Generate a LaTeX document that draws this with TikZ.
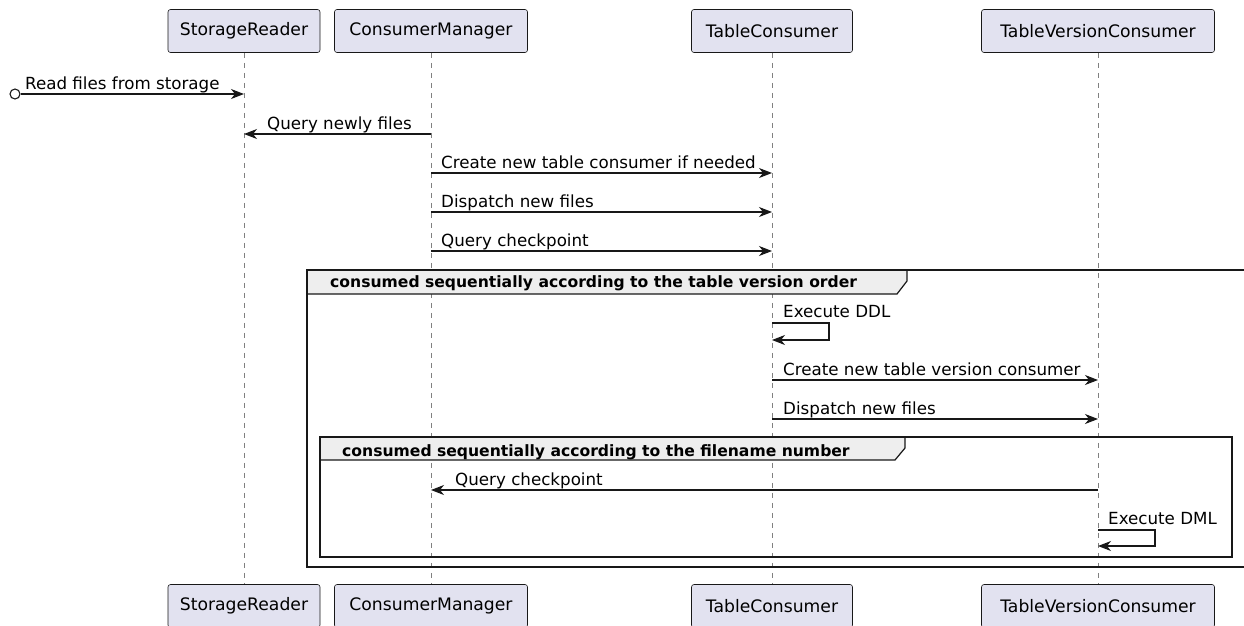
\documentclass[tikz,border=0pt]{standalone}
\usepackage{fontspec}
\setmainfont{DejaVu Sans}
\usetikzlibrary{arrows.meta}
\definecolor{pfill}{HTML}{E2E2F0}
\definecolor{ink}{HTML}{181818}
\definecolor{gfill}{HTML}{EEEEEE}
\begin{document}
\begin{tikzpicture}[x=1pt,y=-1pt,
 part/.style={draw=ink, fill=pfill, rounded corners=2.5pt, minimum height=43pt, inner sep=0pt, font=\fontsize{17.2}{20}\selectfont, line width=0.6pt},
 life/.style={draw=gray, dash pattern=on 5pt off 5pt, line width=0.7pt},
 msg/.style={draw=ink, line width=1.1pt, -{Stealth[length=13pt,width=10pt,inset=4pt]}},
 lbl/.style={font=\fontsize{16.7}{19}\selectfont, anchor=base west, inner sep=0pt, text=black},
 grp/.style={draw=ink, line width=1.8pt},
 ghead/.style={draw=ink, line width=1.2pt, fill=gfill},
 gtext/.style={font=\bfseries\fontsize{15.6}{18}\selectfont, anchor=base west, inner sep=0pt},
 startc/.style={circle, draw=ink, line width=1.1pt, minimum size=10pt, inner sep=0pt}
]
\useasboundingbox (0,0) rectangle (1244,625);
% participants
\node[part, minimum width=152pt] (sr) at (244,31) {StorageReader};
\node[part, minimum width=193pt] (cm) at (431,31) {ConsumerManager};
\node[part, minimum width=161pt] (tc) at (772,31) {TableConsumer};
\node[part, minimum width=233pt] (tvc) at (1098,31) {TableVersionConsumer};
\node[part, minimum width=152pt] (srb) at (244,606) {StorageReader};
\node[part, minimum width=193pt] (cmb) at (431,606) {ConsumerManager};
\node[part, minimum width=161pt] (tcb) at (772,606) {TableConsumer};
\node[part, minimum width=233pt] (tvcb) at (1098,606) {TableVersionConsumer};
% lifelines
\draw[life] (sr.south) -- (srb.north);
\draw[life] (cm.south) -- (cmb.north);
\draw[life] (tc.south) -- (tcb.north);
\draw[life] (tvc.south) -- (tvcb.north);
% message 1
\node[startc] (src) at (15,94) {};
\draw[msg] (src) -- (sr |- src);
\node[lbl] (l1) at (25,89) {Read files from storage};
% message 2
\draw[msg] (cm |- 0,134) -- (sr |- 0,134);
\node[lbl] (l2) at (267,129) {Query newly files};
% message 3-5
\draw[msg] (cm |- 0,173) -- (tc |- 0,173);
\node[lbl] (l3) at (441,168) {Create new table consumer if needed};
\draw[msg] (cm |- 0,212) -- (tc |- 0,212);
\node[lbl] (l4) at (441,207) {Dispatch new files};
\draw[msg] (cm |- 0,251) -- (tc |- 0,251);
\node[lbl] (l5) at (441,246) {Query checkpoint};
% group 1
\draw[ghead] (307,270) -- (907,270) -- (907,281) -- (897,294) -- (307,294) -- cycle;
\draw[grp] (1250,270) -- (307,270) -- (307,567) -- (1250,567);
\node[gtext] (g1) at (330,287) {consumed sequentially according to the table version order};
% self DDL
\draw[msg] (tc |- 0,323) -- ++(57,0) -- ++(0,17) -- (tc |- 0,340);
\node[lbl] (l6) at (783,317) {Execute DDL};
% message 6-7
\draw[msg] (tc |- 0,380) -- (tvc |- 0,380);
\node[lbl] (l7) at (783,375) {Create new table version consumer};
\draw[msg] (tc |- 0,419) -- (tvc |- 0,419);
\node[lbl] (l8) at (783,414) {Dispatch new files};
% group 2
\draw[ghead] (320,437) -- (905,437) -- (905,448) -- (895,460) -- (320,460) -- cycle;
\draw[grp] (320,437) rectangle (1232,557);
\node[gtext] (g2) at (342,456) {consumed sequentially according to the filename number};
% message 8
\draw[msg] (tvc |- 0,490) -- (cm |- 0,490);
\node[lbl] (l9) at (455,485) {Query checkpoint};
% self DML
\draw[msg] (tvc |- 0,530) -- ++(57,0) -- ++(0,16) -- (tvc |- 0,546);
\node[lbl] (l10) at (1108,524) {Execute DML};
\end{tikzpicture}
\end{document}
